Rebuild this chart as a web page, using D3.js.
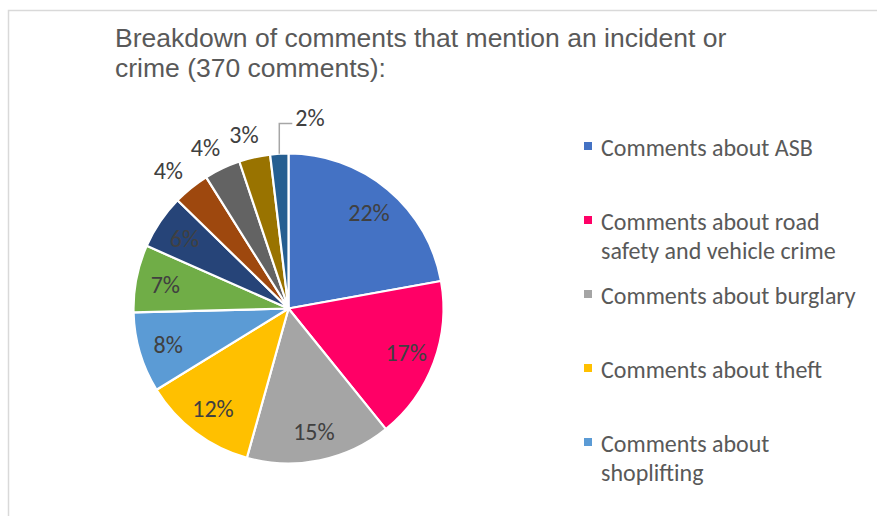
<!DOCTYPE html>
<html>
<head>
<meta charset="utf-8">
<script src="https://cdn.jsdelivr.net/npm/d3@7"></script>
<style>
  html, body { margin: 0; padding: 0; background: #fff; }
  svg { display: block; }
</style>
</head>
<body>
<svg id="chart" width="877" height="516"></svg>
<script>
// ---- data ----
const titleLines = ["Breakdown of comments that mention an incident or", "crime (370 comments):"];
const categories = [
  "Comments about ASB",
  "Comments about road\nsafety and vehicle crime",
  "Comments about burglary",
  "Comments about theft",
  "Comments about\nshoplifting",
  "Category 6",
  "Category 7",
  "Category 8",
  "Category 9",
  "Category 10",
  "Category 11"
];
const counts = [82, 63, 56, 44, 31, 26, 21, 14, 14, 12, 7];
const colors = ["#4472C4", "#FF0066", "#A5A5A5", "#FFC000", "#5B9BD5", "#70AD47",
                "#264478", "#9E480E", "#636363", "#997300", "#255E91"];
const legendCount = 5; // only the first five entries are visible in the legend

// ---- layout ----
const svg = d3.select("#chart");
const W = 877, H = 516;
const cx = 288.5, cy = 308.5, R = 155;
const labelFont = "Carlito, Calibri, Lato, sans-serif";
const fs = 24;

// border
svg.append("path")
  .attr("d", `M8.5,${H} L8.5,10.5 L${W},10.5`)
  .attr("fill", "none").attr("stroke", "#d9d9d9").attr("stroke-width", 1.5);

// title
const title = svg.append("text")
  .attr("font-family", "'Liberation Sans', Arial, sans-serif")
  .attr("font-size", 26.5)
  .attr("fill", "#595959");
titleLines.forEach((t, i) => {
  title.append("tspan").attr("x", 115).attr("y", 47 + i * 30).text(t);
});

const total = d3.sum(counts);
const pct = v => Math.round(v / total * 100);

const pie = d3.pie().sort(null).value(d => d)(counts);
const arc = d3.arc().innerRadius(0).outerRadius(R);

const g = svg.append("g").attr("transform", `translate(${cx},${cy})`);
g.selectAll("path.slice").data(pie).enter().append("path")
  .attr("class", "slice")
  .attr("d", arc)
  .attr("fill", (d, i) => colors[i])
  .attr("stroke", "#fff")
  .attr("stroke-width", 2.2)
  .attr("stroke-linejoin", "round");

const polar = (a, r) => [r * Math.sin(a), -r * Math.cos(a)];

// labels
pie.forEach((d, i) => {
  const p = pct(d.value);
  const mid = (d.startAngle + d.endAngle) / 2;
  const share = d.value / total;
  if (share >= 0.05) {
    const [x, y] = polar(mid, R * 0.81);
    g.append("text")
      .attr("x", x).attr("y", y)
      .attr("text-anchor", "middle").attr("dominant-baseline", "central")
      .attr("font-family", labelFont).attr("font-size", fs)
      .attr("fill", "#404040").text(p + "%");
  } else if (i < pie.length - 1) {
    const [x, y] = polar(mid, R + 30);
    g.append("text")
      .attr("x", x - 4).attr("y", y + 6)
      .attr("text-anchor", "middle").attr("dominant-baseline", "central")
      .attr("font-family", labelFont).attr("font-size", fs)
      .attr("fill", "#404040").text(p + "%");
  } else {
    const [x0, y0] = polar(mid, R);
    const yl = -R - 30;
    g.append("path")
      .attr("d", `M${x0},${y0} L${x0},${yl} L${x0 + 13},${yl}`)
      .attr("fill", "none").attr("stroke", "#a6a6a6").attr("stroke-width", 1.5);
    g.append("text")
      .attr("x", x0 + 16).attr("y", yl - 6)
      .attr("text-anchor", "start").attr("dominant-baseline", "central")
      .attr("font-family", labelFont).attr("font-size", fs)
      .attr("fill", "#404040").text(p + "%");
  }
});

// legend
const legend = svg.append("g");
categories.slice(0, legendCount).forEach((name, i) => {
  const y = 147 + i * 74;
  legend.append("rect")
    .attr("x", 584).attr("y", y - 5).attr("width", 8).attr("height", 8)
    .attr("fill", colors[i]);
  const t = legend.append("text")
    .attr("font-family", labelFont).attr("font-size", fs)
    .attr("fill", "#595959");
  name.split("\n").forEach((line, j) => {
    t.append("tspan").attr("x", 601).attr("y", y + j * 29)
      .attr("dominant-baseline", "central").text(line);
  });
});
</script>
</body>
</html>
